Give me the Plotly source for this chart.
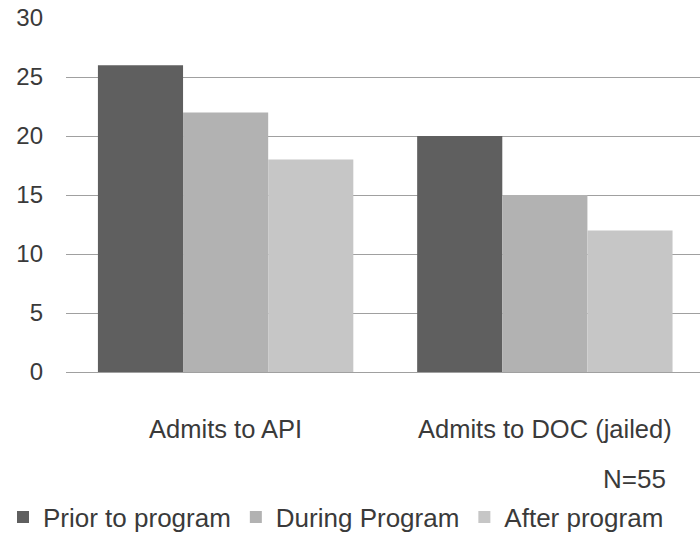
import plotly.graph_objects as go

categories = ["Admits to API", "Admits to DOC (jailed)"]
series_names = ["Prior to program", "During Program", "After program"]
prior = [26, 20]
during = [22, 15]
after = [18, 12]
colors = ["#5f5f5f", "#b2b2b2", "#c6c6c6"]
y_ticks = [0, 5, 10, 15, 20, 25, 30]

FONT = "Liberation Sans, Arial, sans-serif"
TXT = "#3a3a3a"
L, T, B = 66, 18, 169
PW, PH = 700 - L, 541 - T - B

fig = go.Figure()
for name, vals, col in zip(series_names, [prior, during, after], colors):
    fig.add_trace(go.Bar(name=name, x=[0, 1], y=vals, marker=dict(color=col, line=dict(width=0))))

fig.update_layout(
    width=700, height=541,
    margin=dict(l=L, r=0, t=T, b=B, autoexpand=False),
    barmode="group", bargap=0.2, bargroupgap=0,
    plot_bgcolor="white", paper_bgcolor="white",
    font=dict(family=FONT, size=25, color=TXT),
    showlegend=True,
    legend=dict(orientation="h", xref="paper", yref="paper",
                x=(3 - L) / PW, y=-(517 - (541 - B)) / PH,
                xanchor="left", yanchor="middle", font=dict(size=26, color=TXT),
                itemwidth=30, tracegroupgap=0, traceorder="normal"),
)
fig.update_xaxes(
    tickvals=[0, 1], ticktext=categories, range=[-0.5, 1.486], automargin=False,
    showgrid=False, zeroline=False, showline=False, ticks="",
    ticklabelstandoff=39, tickfont=dict(size=25.5, color=TXT),
)
fig.update_yaxes(
    range=[0, 30], tickvals=y_ticks, showgrid=True, gridcolor="#a0a0a0", gridwidth=1.3,
    automargin=False,
    zeroline=True, zerolinecolor="#a0a0a0", zerolinewidth=1.3, showline=False, ticks="",
    ticklabelstandoff=22, tickfont=dict(size=24, color=TXT),
)
fig.add_annotation(text="N=55", xref="paper", yref="paper", x=(668 - L) / PW, y=-(479 - (541 - B)) / PH,
                   xanchor="right", yanchor="middle", showarrow=False,
                   font=dict(family=FONT, size=26, color=TXT))
fig.write_html("out.html", post_script="document.body.style.margin='0';",
               config={"displayModeBar": False})
